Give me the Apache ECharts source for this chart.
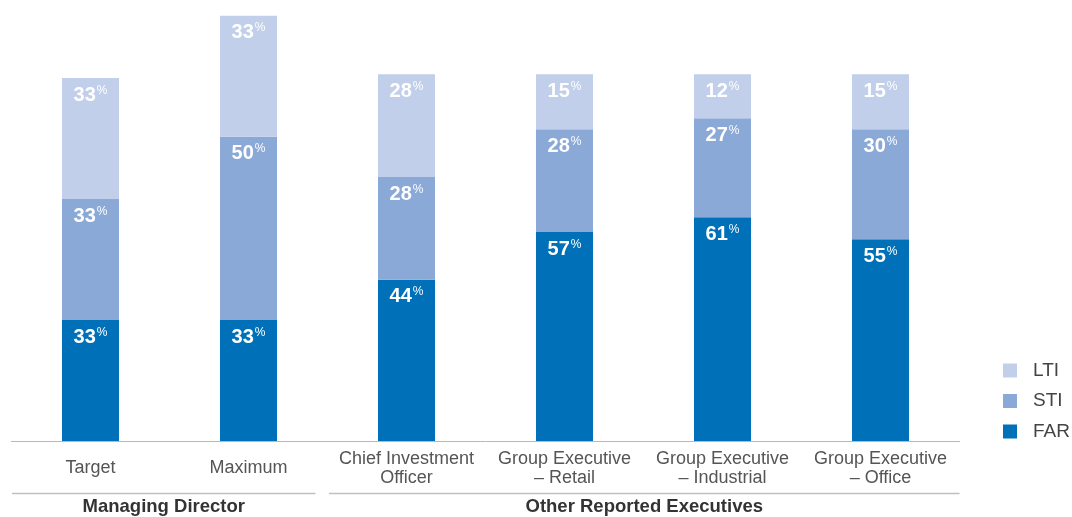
<!DOCTYPE html>
<html><head><meta charset="utf-8">
<script src="https://cdn.jsdelivr.net/npm/echarts@6/dist/echarts.min.js"></script>
<style>html,body{margin:0;padding:0;background:#fff}#c{width:1072px;height:517px}</style>
</head><body><div id="c"></div>
<script>
var categories = ['Target', 'Maximum', 'Chief Investment\nOfficer', 'Group Executive\n– Retail', 'Group Executive\n– Industrial', 'Group Executive\n– Office'];
var FAR = [33, 33, 44, 57, 61, 55];
var STI = [33, 50, 28, 28, 27, 30];
var LTI = [33, 33, 28, 15, 12, 15];
var groups = ['Managing Director', 'Other Reported Executives'];

var FONT = '"Liberation Sans", Arial, Helvetica, sans-serif';
var chart = echarts.init(document.getElementById('c'), null, {renderer: 'canvas'});

function mkSeries(name, data, color) {
  return {
    name: name, type: 'bar', stack: 'total', data: data, barWidth: 57,
    itemStyle: {color: color},
    label: {
      show: true, position: 'insideTop', distance: 7,
      formatter: function (p) { return '{v|' + p.value + '}{p|%}'; },
      rich: {
        v: {fontFamily: FONT, fontSize: 20, fontWeight: 'bold', color: '#fff', lineHeight: 20},
        p: {fontFamily: FONT, fontSize: 12, color: '#fff', lineHeight: 20, padding: [0, 0, 9, 1]}
      }
    },
    emphasis: {disabled: true}
  };
}

var option = {
  animation: false,
  grid: {left: 11.5, right: 112.5, top: 1, bottom: 76, containLabel: false},
  legend: {
    data: ['LTI', 'STI', 'FAR'], orient: 'vertical', left: 1003, top: 361, padding: 0,
    icon: 'rect', itemWidth: 14, itemHeight: 14, itemGap: 11.5,
    textStyle: {fontFamily: FONT, fontSize: 19, color: '#444', padding: [0, 0, 0, 11]},
    selectedMode: false
  },
  xAxis: {
    type: 'category', data: categories,
    axisLine: {show: true, lineStyle: {color: '#b8b8b8', width: 1}},
    axisTick: {show: false},
    axisLabel: {fontFamily: FONT, fontSize: 18, color: '#555', lineHeight: 19, verticalAlign: 'middle', margin: 27.5, interval: 0}
  },
  yAxis: {type: 'value', min: 0, max: 120, show: false, splitLine: {show: false}},
  series: [mkSeries('FAR', FAR, '#0070b8'), mkSeries('STI', STI, '#8aa9d7'), mkSeries('LTI', LTI, '#c1cfea')]
};
chart.setOption(option);

function px(i) { return chart.convertToPixel({xAxisIndex: 0}, i); }
var lineY = 493.5, textY = 507;
var g = [];
var segs = [[px(0) - 78.5, px(1) + 67], [px(2) - 77.5, px(5) + 79]];
segs.forEach(function (s, k) {
  g.push({type: 'line', shape: {x1: s[0], y1: lineY, x2: s[1], y2: lineY}, style: {stroke: '#c0c0c0', lineWidth: 1.5}, silent: true});
  g.push({type: 'text', x: (s[0] + s[1]) / 2, y: textY, style: {text: groups[k], font: 'bold 18.5px ' + FONT, fill: '#333', align: 'center', verticalAlign: 'middle'}, silent: true});
});
chart.setOption({graphic: g});
</script>
</body></html>
